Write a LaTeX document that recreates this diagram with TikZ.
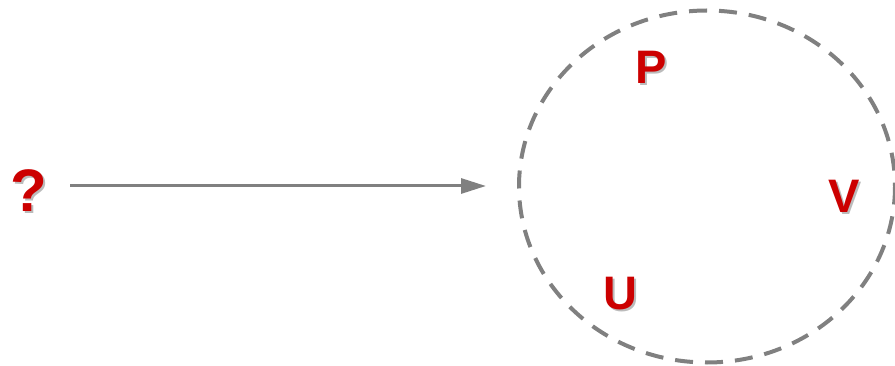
\documentclass[tikz,border=0pt]{standalone}
\usepackage{fontspec}
\setmainfont{Liberation Sans}
\usetikzlibrary{arrows.meta,calc}
\definecolor{lblred}{HTML}{CC0000}
\definecolor{lblshadow}{HTML}{BBBBBB}
\definecolor{linegray}{HTML}{808080}
\tikzset{
  lbl/.style={font=\fontsize{#1}{#1}\selectfont\bfseries, text=lblred, inner sep=0pt},
  lblsh/.style={font=\fontsize{#1}{#1}\selectfont\bfseries, text=lblshadow, inner sep=0pt},
  conn/.style={draw=linegray, line width=3pt, -{Triangle[length=25pt,width=15pt]}},
  ring/.style={draw=linegray, line width=4pt, dash pattern=on 18pt off 12pt}
}
\newcommand{\shlabel}[4]{%
  \node[lblsh=#4] at ($(#1)+(2pt,-2pt)$) {#3};
  \node[lbl=#4] (#2) at (#1) {#3};}
\begin{document}
\begin{tikzpicture}[x=1pt,y=-1pt]
\useasboundingbox (0,0) rectangle (895,366);
\coordinate (cc) at (707,186.5);
\path[ring] (cc) ellipse [x radius=188, y radius=176];
\coordinate (q) at (29,191);
\coordinate (pp) at (651,67);
\coordinate (vv) at (844,196);
\coordinate (uu) at (620,294);
\shlabel{q}{qlabel}{?}{60}
\shlabel{pp}{plabel}{P}{47}
\shlabel{vv}{vlabel}{V}{47}
\shlabel{uu}{ulabel}{U}{47}
\coordinate (as) at (70,186);
\coordinate (ae) at (486,186);
\draw[conn] (as) -- (ae);
\end{tikzpicture}
\end{document}
